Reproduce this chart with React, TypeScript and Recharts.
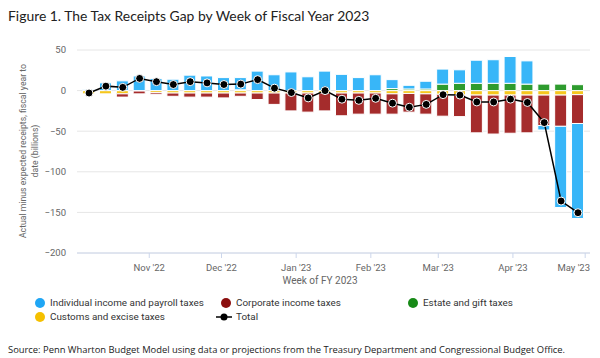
import React from "react";
import {
  ComposedChart,
  Bar,
  Line,
  XAxis,
  YAxis,
  CartesianGrid,
} from "recharts";

// Week offsets (days after Oct 7, 2022)
const weekDays = [0, 7, 14, 21, 28, 35, 42, 49, 56, 63, 70, 77, 84, 91, 98, 105, 112, 119, 126, 133, 140, 147, 154, 161, 168, 175, 182, 189, 196, 203];

const individual = [1, 9.5, 12, 18, 15, 14, 19, 18, 16, 15, 24, 19.5, 23, 17, 24, 20, 16, 19.5, 11, 4.5, 9.5, 18.5, 16.6, 28.4, 29, 33, 28.6, -5.5, -100, -117];
const estate = [0, 0, 0, 0, 0, 0, 0, 0, 0, 1, 0, 0, 0, 0, 0, 0, 0, 0, 2.5, 2, 2, 8, 9, 9, 9, 9, 8, 8, 8, 7.3];
const customs = [-4, -4, -4, -0.5, -2.5, -3, -3, -3, -3, -3, -3, -3, -3, -3, -3, -3, -3, -3, -4, -3.5, -4, -4.5, -5.5, -5.5, -5.5, -5.5, -5.5, -5.5, -5.5, -5];
const corporate = [0, 0, -4, -3.5, -2, -4, -5, -5, -6, -4, -8, -14, -22, -23.5, -22, -28, -26, -26, -25, -23, -25, -27, -26.5, -46.5, -48, -47, -46.5, -37.5, -38.5, -35.5];
const total = [-3, 5.5, 4, 15, 11, 7.5, 11, 9.5, 7.5, 8, 13.5, 3, -2.4, -9, 0, -10.6, -12, -9.5, -15.5, -20.5, -17, -5, -5.5, -14, -14, -10.5, -14.6, -39.4, -136, -150.4];

const monthTicks = [25, 55, 86, 117, 145, 176, 206];
const monthLabels = ["Nov '22", "Dec '22", "Jan '23", "Feb '23", "Mar '23", "Apr '23", "May '23"];
const yTicks = [-200, -150, -100, -50, 0, 50];

const data = weekDays.map((d, i) => ({
  day: d,
  individual: individual[i],
  estate: estate[i],
  customs: customs[i],
  corporate: corporate[i],
  total: total[i],
}));

const FONT = "Roboto, sans-serif";
const COLORS = {
  individual: "#38b6f8",
  corporate: "#a52c2c",
  estate: "#2e9b2e",
  customs: "#f6c71e",
};

const XTick = (props: any) => {
  const { x, y, payload } = props;
  const idx = monthTicks.indexOf(payload.value);
  const label = monthLabels[idx] ?? "";
  const last = idx === monthTicks.length - 1;
  return (
    <text
      x={last ? 590 : x}
      y={y + 11}
      textAnchor={last ? "end" : "middle"}
      fill="#666"
      fontSize={9.5}
      fontFamily={FONT}
    >
      {label}
    </text>
  );
};

const YLabel = () => (
  <g fill="#666" fontSize={8.7} fontFamily={FONT}>
    <text x={24} y={151} textAnchor="middle" transform="rotate(-90 24 151)" dominantBaseline="middle">
      Actual minus expected receipts, fiscal year to
    </text>
    <text x={36} y={151} textAnchor="middle" transform="rotate(-90 36 151)" dominantBaseline="middle">
      date (billions)
    </text>
  </g>
);

const XLabel = () => (
  <text x={320} y={284} textAnchor="middle" fill="#666" fontSize={10} fontFamily={FONT}>
    Week of FY 2023
  </text>
);

const LegendDot = ({ color }: { color: string }) => (
  <span
    style={{
      display: "inline-block",
      width: 10,
      height: 10,
      borderRadius: 5,
      background: color,
      marginRight: 5,
      verticalAlign: "middle",
    }}
  />
);

const legendItem: React.CSSProperties = {
  position: "absolute",
  fontSize: 9.9,
  color: "#333",
  fontFamily: FONT,
  whiteSpace: "nowrap",
  lineHeight: "14px",
};

export default function App() {
  return (
    <div
      style={{
        position: "absolute",
        left: 0,
        top: 0,
        width: 600,
        height: 358,
        background: "#fff",
        overflow: "hidden",
      }}
    >
      <div
        style={{
          position: "absolute",
          left: 8,
          top: 7,
          fontFamily: "Lato, sans-serif",
          fontSize: 13.9,
          color: "#222",
          whiteSpace: "nowrap",
        }}
      >
        Figure 1. The Tax Receipts Gap by Week of Fiscal Year 2023
      </div>
      <div style={{ position: "absolute", left: 0, top: 0 }}>
        <ComposedChart
          width={600}
          height={290}
          data={data}
          stackOffset="sign"
          margin={{ top: 50, right: 10, bottom: 0, left: 0 }}
        >
          <CartesianGrid vertical={false} stroke="#e6e6e6" />
          <XAxis
            dataKey="day"
            type="number"
            domain={[-5, 208]}
            ticks={monthTicks}
            allowDataOverflow
            height={37}
            tick={<XTick />}
            tickLine={{ stroke: "#ccd6eb" }}
            tickSize={5}
            axisLine={{ stroke: "#ccd6eb" }}
            interval={0}
            label={<XLabel />}
          />
          <YAxis
            type="number"
            domain={[-200, 50]}
            ticks={yTicks}
            width={77}
            axisLine={false}
            tickLine={false}
            tickSize={0}
            tickMargin={11}
            tick={{ fill: "#666", fontSize: 9.5, fontFamily: FONT }}
            tickFormatter={(v: number) => (v < 0 ? "\u2212" + Math.abs(v) : String(v))}
            label={<YLabel />}
          />
          <Bar dataKey="customs" stackId="a" fill={COLORS.customs} barSize={12} stroke="#fff" strokeWidth={1} isAnimationActive={false} />
          <Bar dataKey="estate" stackId="a" fill={COLORS.estate} barSize={12} stroke="#fff" strokeWidth={1} isAnimationActive={false} />
          <Bar dataKey="corporate" stackId="a" fill={COLORS.corporate} barSize={12} stroke="#fff" strokeWidth={1} isAnimationActive={false} />
          <Bar dataKey="individual" stackId="a" fill={COLORS.individual} barSize={12} stroke="#fff" strokeWidth={1} isAnimationActive={false} />
          <Line
            dataKey="total"
            stroke="#000"
            strokeWidth={1.5}
            dot={{ r: 4, fill: "#000", stroke: "#fff", strokeWidth: 1 }}
            isAnimationActive={false}
          />
        </ComposedChart>
      </div>
      <div style={{ ...legendItem, left: 35, top: 296 }}>
        <LegendDot color="#1fa6f5" />Individual income and payroll taxes
      </div>
      <div style={{ ...legendItem, left: 221, top: 296 }}>
        <LegendDot color="#8b0e0e" />Corporate income taxes
      </div>
      <div style={{ ...legendItem, left: 408, top: 296 }}>
        <LegendDot color="#178a17" />Estate and gift taxes
      </div>
      <div style={{ ...legendItem, left: 35, top: 310 }}>
        <LegendDot color="#f5c000" />Customs and excise taxes
      </div>
      <div style={{ ...legendItem, left: 216, top: 310 }}>
        <svg width={16} height={10} style={{ verticalAlign: "middle", marginRight: 4 }}>
          <line x1={0} y1={5} x2={16} y2={5} stroke="#000" strokeWidth={1.5} />
          <circle cx={8} cy={5} r={3.5} fill="#000" />
        </svg>
        Total
      </div>
      <div
        style={{
          position: "absolute",
          left: 8,
          top: 343,
          fontSize: 9.4,
          fontFamily: "'Open Sans', sans-serif",
          color: "#222",
          whiteSpace: "nowrap",
        }}
      >
        Source: Penn Wharton Budget Model using data or projections from the Treasury Department and Congressional Budget Office.
      </div>
    </div>
  );
}
